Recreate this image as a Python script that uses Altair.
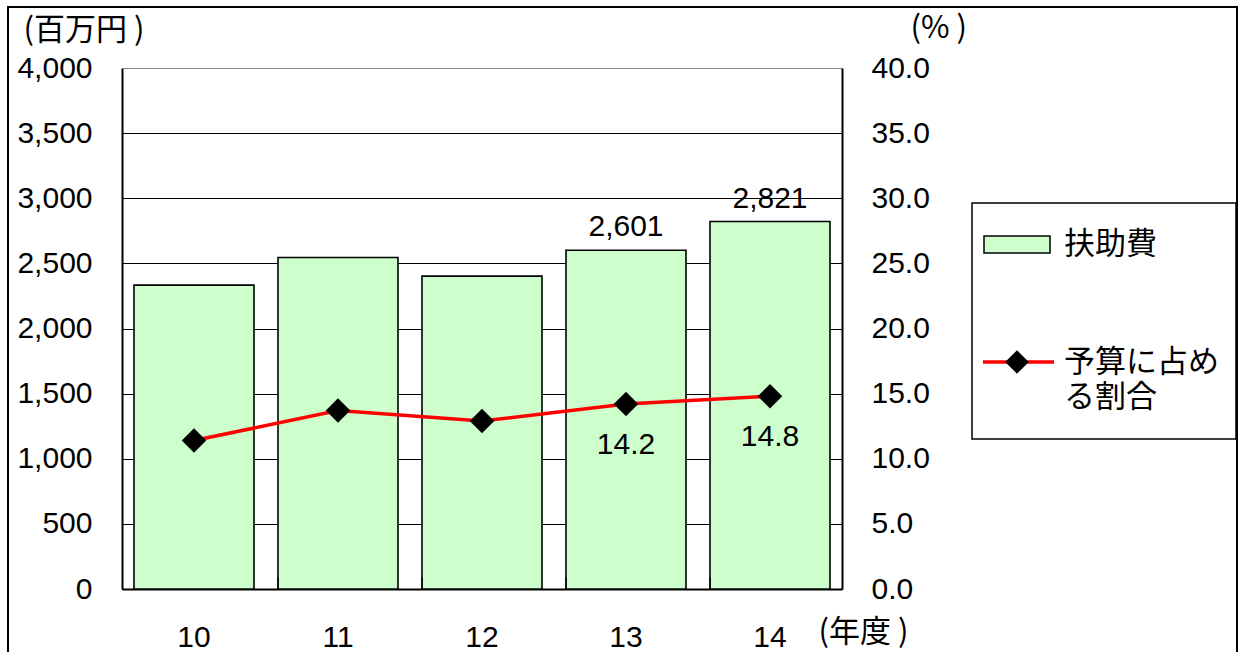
import altair as alt
import pandas as pd

# ---- data ----
years = ["10", "11", "12", "13", "14"]
fujo = [2333, 2545, 2402, 2601, 2821]          # 扶助費 (百万円)
ratio = [11.4, 13.7, 12.9, 14.2, 14.8]          # 予算に占める割合 (%)
bar_label_years = ["13", "14"]
line_label_years = ["13", "14"]
left_ticks = [0, 500, 1000, 1500, 2000, 2500, 3000, 3500, 4000]
right_ticks = [0, 5, 10, 15, 20, 25, 30, 35, 40]
band_edge_years = ["11", "12", "13", "14"]

df = pd.DataFrame({"year": years, "fujo": fujo, "ratio": ratio})
edges = pd.DataFrame({"year": band_edge_years})
one = pd.DataFrame({"k": [0]})

NUM_FONT = "Liberation Sans"
JP_FONT = "Noto Sans CJK JP"
W, H = 720, 521
NUM_SIZE = 30

x_scale = alt.Scale(domain=years, paddingInner=1 / 6, paddingOuter=1 / 12)
x_axis = alt.Axis(
    title="(年度 )", titleAngle=0, titleAlign="left", titleBaseline="alphabetic",
    titleX=696, titleY=52, titleFont=JP_FONT, titleFontSize=31, titleFontWeight="normal",
    titleColor="black",
    labelFont=NUM_FONT, labelFontSize=NUM_SIZE, labelColor="black", labelPadding=33,
    labelBaseline="top", labelAngle=0,
    ticks=False, domainColor="black", domainWidth=2, grid=False,
)
x_enc = alt.X("year:N", sort=years, scale=x_scale, axis=x_axis)

left_axis = alt.Axis(
    orient="left", values=left_ticks, format=",.0f",
    labelFont=NUM_FONT, labelFontSize=NUM_SIZE, labelColor="black", labelPadding=30,
    ticks=False, domainColor="black", domainWidth=2,
    grid=True, gridWidth=1.2,
    gridColor={"condition": {"test": "datum.value === 4000", "value": "#8a8a8a"}, "value": "black"},
    title="(百万円 )", titleAngle=0, titleAlign="left", titleBaseline="alphabetic",
    titleX=-99, titleY=-29, titleFont=JP_FONT, titleFontSize=31, titleFontWeight="normal",
    titleColor="black",
)
right_axis = alt.Axis(
    orient="right", values=right_ticks, format=".1f",
    labelFont=NUM_FONT, labelFontSize=NUM_SIZE, labelColor="black", labelPadding=29,
    labelAlign="left",
    ticks=False, domainColor="black", domainWidth=2, grid=False,
    title="(% )", titleAngle=0, titleAlign="left", titleBaseline="alphabetic",
    titleX=68, titleY=-31, titleFont=JP_FONT, titleFontSize=31, titleFontWeight="normal",
    titleColor="black",
)

y_left = alt.Y("fujo:Q", scale=alt.Scale(domain=[0, 4000], nice=False), axis=left_axis)
y_right = alt.Y("ratio:Q", scale=alt.Scale(domain=[0, 40], nice=False), axis=right_axis)

bars = alt.Chart(df).mark_bar(fill="#CCFFCC", stroke="black", strokeWidth=1.6).encode(
    x=x_enc, y=y_left
)
bar_labels = alt.Chart(df).transform_filter(
    alt.FieldOneOfPredicate(field="year", oneOf=bar_label_years)
).mark_text(font=NUM_FONT, fontSize=NUM_SIZE, color="black", baseline="alphabetic", dy=-14).encode(
    x=x_enc, y=y_left, text=alt.Text("fujo:Q", format=",.0f")
)
band_ticks = alt.Chart(edges).mark_rule(color="black", strokeWidth=1.2).encode(
    x=alt.X("year:N", sort=years, scale=x_scale, axis=x_axis, bandPosition=0),
    y=alt.value(H - 12), y2=alt.value(H),
)
left = alt.layer(bars, band_ticks, bar_labels)

line = alt.Chart(df).mark_line(color="#FF0000", strokeWidth=3.5).encode(x=x_enc, y=y_right)
points = alt.Chart(df).mark_point(
    shape="diamond", filled=True, color="black", size=600, opacity=1
).encode(x=x_enc, y=y_right)
line_labels = alt.Chart(df).transform_filter(
    alt.FieldOneOfPredicate(field="year", oneOf=line_label_years)
).mark_text(font=NUM_FONT, fontSize=NUM_SIZE, color="black", baseline="alphabetic", dy=50).encode(
    x=x_enc, y=y_right, text=alt.Text("ratio:Q", format=".1f")
)
right = alt.layer(line, points, line_labels)

# ---- decorations: outer frame and legend ----
frame = alt.Chart(one).mark_rect(fill=None, stroke="black", strokeWidth=2).encode(
    x=alt.value(-114), x2=alt.value(1115), y=alt.value(-61), y2=alt.value(640)
)
leg_box = alt.Chart(one).mark_rect(fill="white", stroke="black", strokeWidth=1.5).encode(
    x=alt.value(850), x2=alt.value(1114), y=alt.value(135), y2=alt.value(371)
)
leg_swatch = alt.Chart(one).mark_rect(fill="#CCFFCC", stroke="black", strokeWidth=1.5).encode(
    x=alt.value(862), x2=alt.value(928), y=alt.value(168), y2=alt.value(185)
)
leg_text1 = alt.Chart(one).mark_text(
    text="扶助費", font=JP_FONT, fontSize=31, color="black", align="left", baseline="middle"
).encode(x=alt.value(942), y=alt.value(177))
leg_line = alt.Chart(one).mark_rule(color="#FF0000", strokeWidth=3.5).encode(
    x=alt.value(861), x2=alt.value(932), y=alt.value(294)
)
leg_pt = alt.Chart(one).mark_point(
    shape="diamond", filled=True, color="black", size=560, opacity=1
).encode(x=alt.value(895), y=alt.value(294))
leg_text2 = alt.Chart(one).mark_text(
    text=["予算に占め", "る割合"], font=JP_FONT, fontSize=31, lineHeight=35,
    color="black", align="left", baseline="middle"
).encode(x=alt.value(942), y=alt.value(295))
deco = alt.layer(frame, leg_box, leg_swatch, leg_text1, leg_line, leg_pt, leg_text2)

chart = alt.layer(left, right, deco).resolve_scale(y="independent").properties(
    width=W, height=H,
    autosize=alt.AutoSizeParams(type="none"),
    padding={"left": 122, "top": 68, "right": 398, "bottom": 63},
    background="white",
).configure_view(stroke=None)

chart.save("out.html", embed_options={"renderer": "svg", "actions": False})
